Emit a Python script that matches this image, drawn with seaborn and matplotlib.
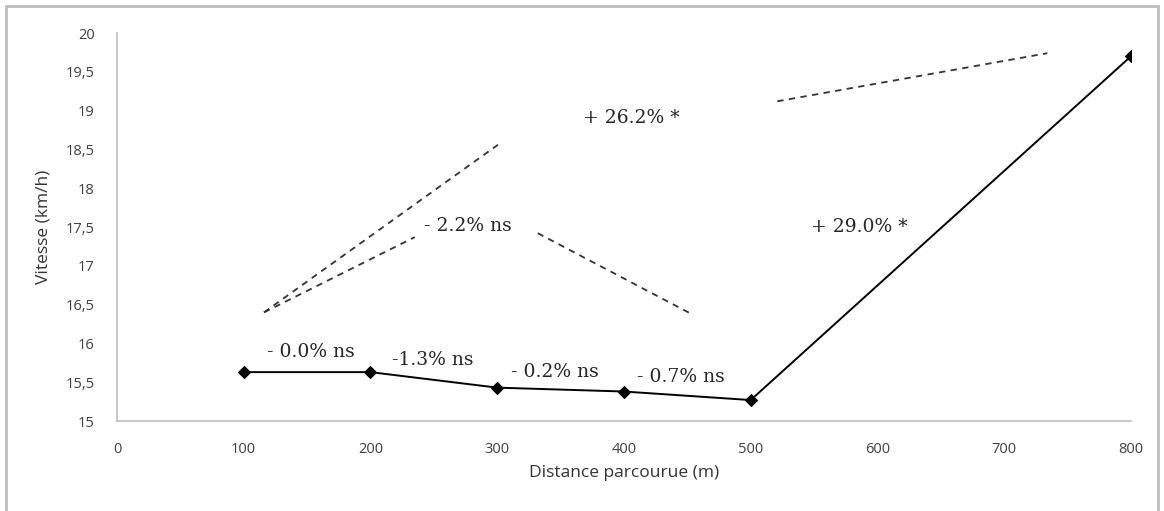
import matplotlib
matplotlib.use("Agg")
import matplotlib.pyplot as plt
import seaborn as sns
import pandas as pd
from matplotlib.patches import Rectangle

# ---- data ----
distance = [100, 200, 300, 400, 500, 800]
vitesse = [15.63, 15.63, 15.43, 15.38, 15.27, 19.70]

x_ticks = [0, 100, 200, 300, 400, 500, 600, 700, 800]
y_ticks = [15, 15.5, 16, 16.5, 17, 17.5, 18, 18.5, 19, 19.5, 20]
y_tick_labels = ["15", "15,5", "16", "16,5", "17", "17,5", "18", "18,5", "19", "19,5", "20"]

# segment annotations (text, x, y)
seg_labels = ["- 0.0% ns", "-1.3% ns", "- 0.2% ns", "- 0.7% ns", "+ 29.0% *"]
seg_x = [153, 249.5, 345.6, 445, 586]
seg_y = [15.89, 15.79, 15.63, 15.57, 17.50]

# bracket annotations (dashed lines) and their labels
bracket_x0 = [116, 116, 332, 521]
bracket_y0 = [16.40, 16.40, 17.42, 19.12]
bracket_x1 = [300.6, 235, 452, 734]
bracket_y1 = [18.56, 17.37, 16.39, 19.74]
bracket_labels = ["+ 26.2% *", "- 2.2% ns"]
bracket_lx = [405.5, 277]
bracket_ly = [18.90, 17.51]

df = pd.DataFrame({"distance": distance, "vitesse": vitesse})

sns.set_theme(style="white")
plt.rcParams["font.family"] = ["Open Sans", "DejaVu Sans"]

fig = plt.figure(figsize=(11.64, 5.11), dpi=100)
ax = fig.add_axes([0.1005, 0.1761, 0.8711, 0.7593])

sns.lineplot(data=df, x="distance", y="vitesse", ax=ax, color="black",
             linewidth=1.4, marker="D", markersize=6, markeredgecolor="black",
             markerfacecolor="black")

for x0, y0, x1, y1 in zip(bracket_x0, bracket_y0, bracket_x1, bracket_y1):
    ax.plot([x0, x1], [y0, y1], color="#333333", linestyle=(0, (3.5, 3)), linewidth=1.3)

serif = ["DejaVu Serif"]
for t, x, y in zip(seg_labels, seg_x, seg_y):
    ax.text(x, y, t, ha="center", va="center", fontsize=13.5, family=serif, color="#262626")
for t, x, y in zip(bracket_labels, bracket_lx, bracket_ly):
    ax.text(x, y, t, ha="center", va="center", fontsize=13.5, family=serif, color="#262626")

ax.set_xlim(0, 800)
ax.set_ylim(15, 20)
ax.set_xticks(x_ticks)
ax.set_xticklabels([str(v) for v in x_ticks])
ax.set_yticks(y_ticks)
ax.set_yticklabels(y_tick_labels)
ax.tick_params(axis="both", length=0, labelsize=10.5, colors="#404040")
ax.tick_params(axis="x", pad=15)
ax.tick_params(axis="y", pad=16)

for s in ["top", "right"]:
    ax.spines[s].set_visible(False)
for s in ["left", "bottom"]:
    ax.spines[s].set_color("#bfbfbf")
    ax.spines[s].set_linewidth(1.2)

ax.set_xlabel("Distance parcourue (m)", fontsize=12.5, color="#333333", labelpad=6)
ax.set_ylabel("Vitesse (km/h)", fontsize=12.5, color="#333333", labelpad=10)

fig.patches.append(Rectangle((6 / 1164, -0.05), 1152 / 1164, 1 - 6 / 511 + 0.05,
                             transform=fig.transFigure, fill=False,
                             edgecolor="#bfbfbf", linewidth=2))

fig.savefig("out.png", dpi=100)
